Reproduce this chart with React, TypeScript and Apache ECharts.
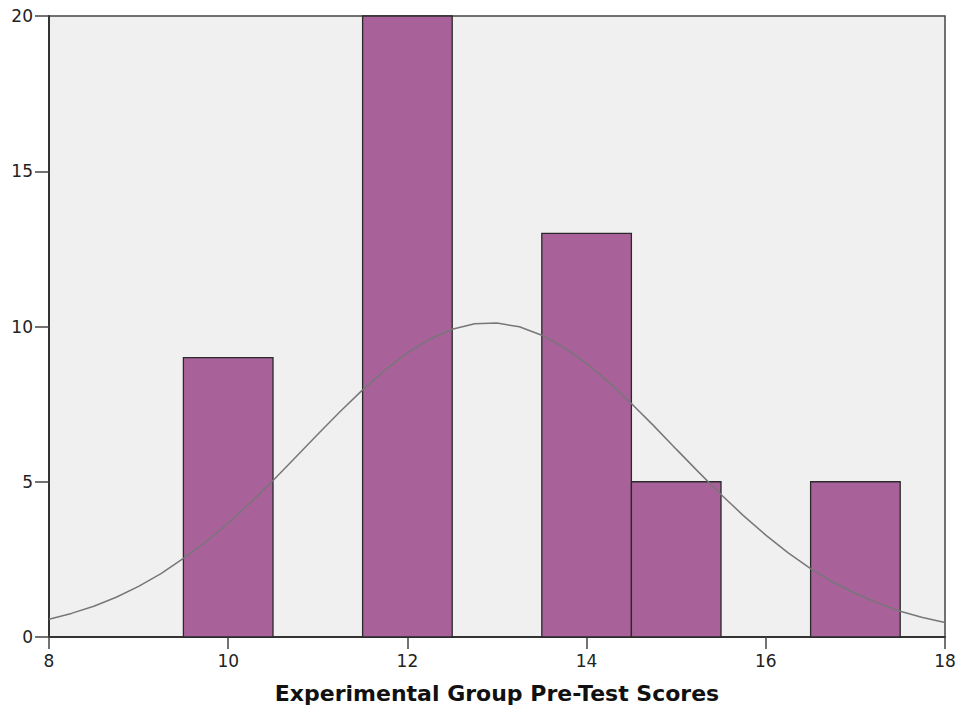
import React, { useEffect, useRef } from "react";
import * as echarts from "echarts";

// Histogram bins: [start, end, frequency]
const binStarts = [9.5, 11.5, 13.5, 14.5, 16.5];
const binEnds = [10.5, 12.5, 14.5, 15.5, 17.5];
const frequencies = [9, 20, 13, 5, 5];

// Normal curve points
const curveX = [8, 8.25, 8.5, 8.75, 9, 9.25, 9.5, 9.75, 10, 10.25, 10.5, 10.75, 11, 11.25, 11.5, 11.75, 12, 12.25, 12.5, 12.75, 13, 13.25, 13.5, 13.75, 14, 14.25, 14.5, 14.75, 15, 15.25, 15.5, 15.75, 16, 16.25, 16.5, 16.75, 17, 17.25, 17.5, 17.75, 18];
const curveY = [0.57, 0.76, 0.99, 1.28, 1.63, 2.04, 2.53, 3.06, 3.67, 4.33, 5.04, 5.78, 6.53, 7.26, 7.96, 8.6, 9.15, 9.59, 9.91, 10.09, 10.11, 9.99, 9.72, 9.32, 8.81, 8.2, 7.52, 6.8, 6.05, 5.31, 4.59, 3.91, 3.28, 2.71, 2.2, 1.77, 1.4, 1.09, 0.83, 0.63, 0.47];

const xTitle = "Experimental Group Pre-Test Scores";

export default function App() {
  const ref = useRef<HTMLDivElement>(null);
  useEffect(() => {
    if (!ref.current) return;
    const chart = echarts.init(ref.current, null, { renderer: "svg" });
    const font = "'DejaVu Sans', Verdana, sans-serif";
    chart.setOption({
      animation: false,
      grid: {
        left: 49,
        right: 15,
        top: 16,
        bottom: 73,
        show: true,
        backgroundColor: "#f0f0f0",
        borderColor: "#444",
        borderWidth: 1.5,
      },
      xAxis: {
        type: "value",
        min: 8,
        max: 18,
        interval: 2,
        name: xTitle,
        nameLocation: "middle",
        nameGap: 45,
        nameTextStyle: { fontFamily: font, fontSize: 22, fontWeight: "bold", color: "#111" },
        axisLine: { show: true, onZero: false, lineStyle: { color: "#333", width: 2 } },
        axisTick: { show: true, length: 12, lineStyle: { color: "#444", width: 1.5 } },
        axisLabel: { fontFamily: font, fontSize: 17, color: "#222", margin: 15 },
        splitLine: { show: false },
      },
      yAxis: {
        type: "value",
        min: 0,
        max: 20,
        interval: 5,
        axisLine: { show: true, lineStyle: { color: "#333", width: 2 } },
        axisTick: { show: true, length: 14, lineStyle: { color: "#444", width: 1.5 } },
        axisLabel: { fontFamily: font, fontSize: 17, color: "#222", margin: 16 },
        splitLine: { show: false },
      },
      series: [
        {
          type: "custom",
          renderItem: (params: any, api: any) => {
            const s = api.value(0);
            const e = api.value(1);
            const v = api.value(2);
            const p0 = api.coord([s, v]);
            const p1 = api.coord([e, 0]);
            return {
              type: "rect",
              shape: { x: p0[0], y: p0[1], width: p1[0] - p0[0], height: p1[1] - p0[1] },
              style: { fill: "#a9619a", stroke: "#2a2a2a", lineWidth: 1.3 },
            };
          },
          encode: { x: [0, 1], y: 2 },
          data: binStarts.map((s, i) => [s, binEnds[i], frequencies[i]]),
          z: 2,
        },
        {
          type: "line",
          smooth: false,
          symbol: "none",
          data: curveX.map((x, i) => [x, curveY[i]]),
          lineStyle: { color: "#777", width: 1.5 },
          z: 3,
        },
      ],
    });
    return () => chart.dispose();
  }, []);
  return (
    <div
      ref={ref}
      style={{ position: "fixed", left: 0, top: 0, width: 960, height: 710, background: "#fff" }}
    />
  );
}
